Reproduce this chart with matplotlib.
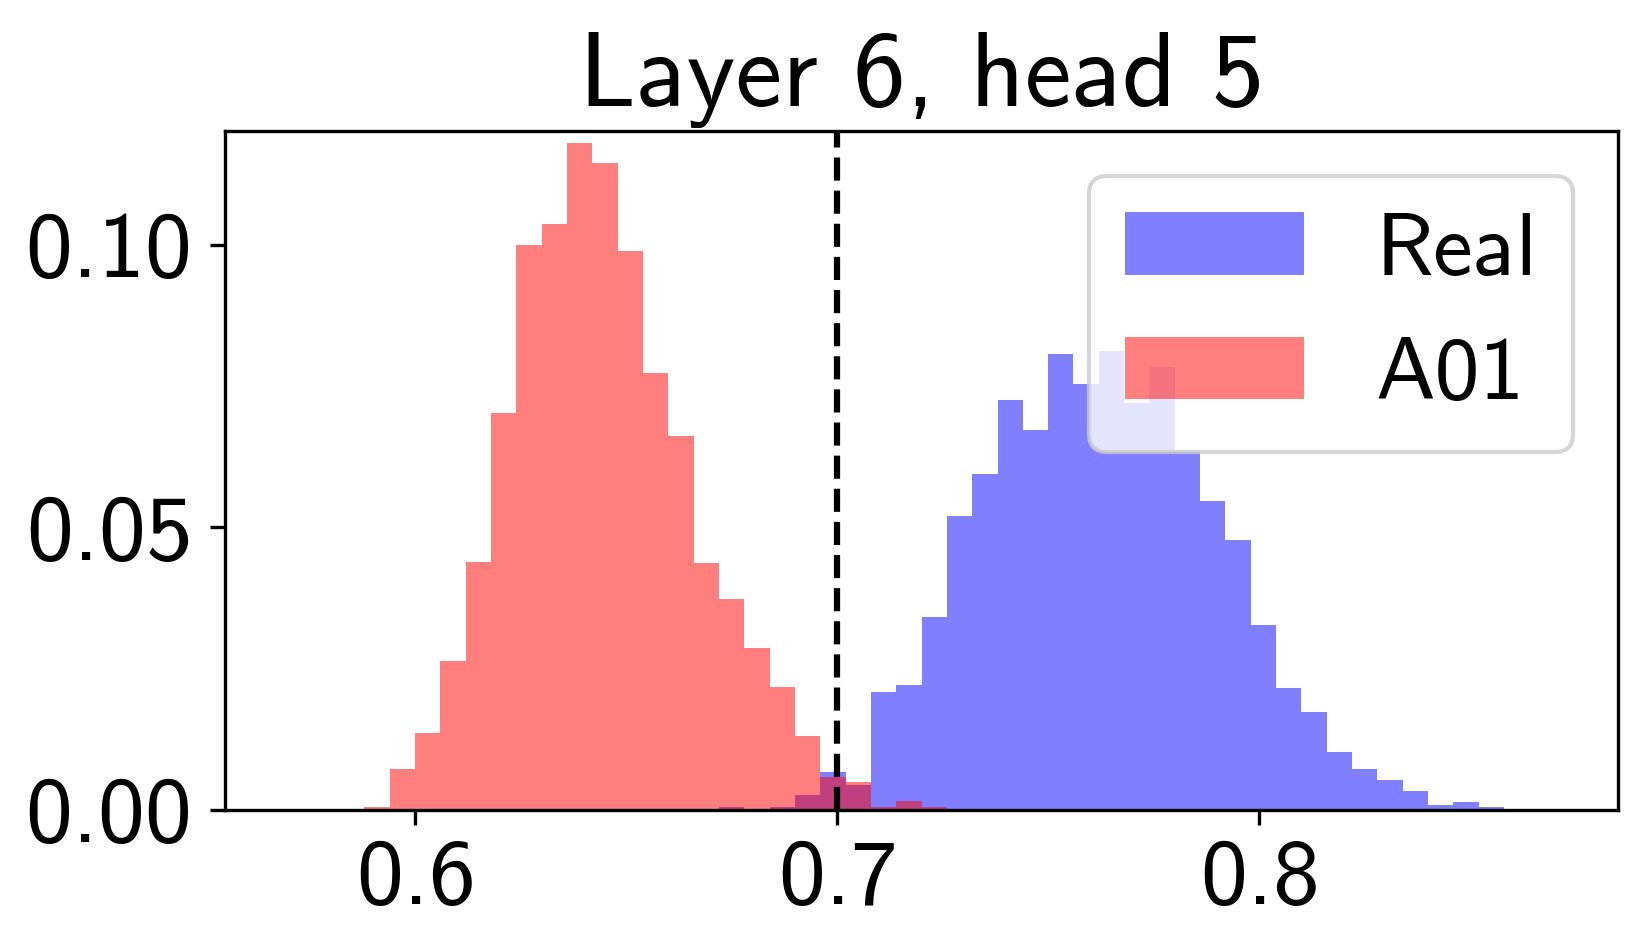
#!/usr/bin/env python

import numpy as np
import matplotlib
matplotlib.use('Agg')
import matplotlib.pyplot as plt

plt.rcParams['font.family'] = ['cmss10', 'DejaVu Sans']
plt.rcParams['axes.formatter.use_mathtext'] = True
plt.rcParams['mathtext.fontset'] = 'custom'
plt.rcParams['mathtext.rm'] = 'cmss10'

# 50 bins of width 0.006 between 0.57 and 0.87, values are fraction per bin
bin_edges = np.linspace(0.57, 0.87, 51)

real = [0, 0, 0, 0, 0, 0, 0, 0, 0, 0,
        0, 0, 0, 0, 0, 0, 0, 0.0005, 0.0002, 0.0005,
        0.0026, 0.0068, 0.0045, 0.0209, 0.0221, 0.0342, 0.0520, 0.0594, 0.0725, 0.0672,
        0.0806, 0.0753, 0.0811, 0.0720, 0.0783, 0.0636, 0.0546, 0.0477, 0.0328, 0.0216,
        0.0174, 0.0103, 0.0072, 0.0053, 0.0034, 0.0009, 0.0014, 0.0005, 0, 0]

a01 = [0, 0, 0.0002, 0.0006, 0.0073, 0.0136, 0.0263, 0.0438, 0.0702, 0.1000,
       0.1036, 0.1179, 0.1144, 0.0988, 0.0772, 0.0662, 0.0436, 0.0373, 0.0287, 0.0217,
       0.0131, 0.0058, 0.0049, 0.0006, 0.0015, 0.0006, 0, 0.0002, 0.0002, 0,
       0.0002, 0, 0, 0, 0, 0, 0, 0, 0, 0,
       0, 0, 0, 0, 0, 0, 0, 0, 0, 0]

threshold = 0.7
title = 'Layer 6, head 5'

centers = 0.5 * (bin_edges[:-1] + bin_edges[1:])

fig = plt.figure(figsize=(5.5, 3.16), dpi=300)
ax = fig.add_subplot(111)
fig.subplots_adjust(left=0.1364, right=0.9806, bottom=0.1456, top=0.8613)

ax.hist(centers, bins=bin_edges, weights=real, color='blue', alpha=0.5, label='Real')
ax.hist(centers, bins=bin_edges, weights=a01, color='red', alpha=0.5, label='A01')
ax.axvline(threshold, color='black', linestyle='--', linewidth=1.5)

ax.set_ylim(0, 0.12)
ax.set_xticks([0.6, 0.7, 0.8])
ax.set_yticks([0.0, 0.05, 0.10])
ax.tick_params(labelsize=22.5)
ax.tick_params(axis='y', pad=5)
ax.set_title(title, fontsize=25.3)
ax.legend(loc='upper right', fontsize=21.5)

fig.savefig('out.png', dpi=300)
